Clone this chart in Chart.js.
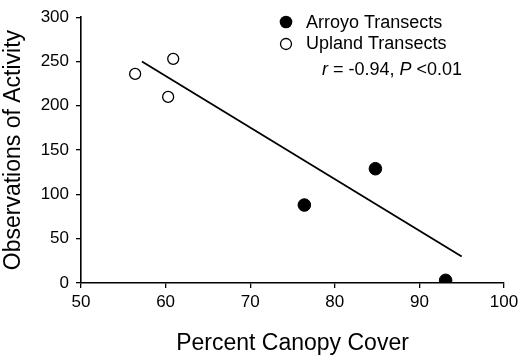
<!DOCTYPE html>
<html>
<head>
<meta charset="utf-8">
<script src="https://cdn.jsdelivr.net/npm/chart.js@4/dist/chart.umd.min.js"></script>
<style>
  html, body { margin: 0; padding: 0; background: #fff; }
  #wrap { width: 519px; height: 359px; position: relative; }
</style>
</head>
<body>
<div id="wrap"><canvas id="chart"></canvas></div>
<script>
// values
const arroyoX = [76.4, 84.8, 93.1];
const arroyoY = [88, 129, 3];
const uplandX = [56.4, 60.3, 60.9];
const uplandY = [236, 210, 253];
const fitX = [57.2, 95.0];
const fitY = [250, 30];
const xTicks = [50, 60, 70, 80, 90, 100];
const yTicks = [0, 50, 100, 150, 200, 250, 300];

const FONT = '"Liberation Sans", Arial, sans-serif';
const pts = (xs, ys) => xs.map((x, i) => ({ x, y: ys[i] }));

// legend + stats text drawn inside the plot area
const insideLegend = {
  id: 'insideLegend',
  afterDraw(chart) {
    const ctx = chart.ctx;
    const a = chart.chartArea;
    const lx = a.left + 205, tx = a.left + 225;
    ctx.save();
    ctx.textBaseline = 'middle';
    ctx.fillStyle = '#000';
    ctx.strokeStyle = '#000';
    ctx.font = '18px ' + FONT;

    ctx.beginPath();
    ctx.arc(lx, 22, 6.3, 0, Math.PI * 2);
    ctx.fill();
    ctx.fillText('Arroyo Transects', tx, 23);

    ctx.beginPath();
    ctx.arc(lx, 44, 5.5, 0, Math.PI * 2);
    ctx.fillStyle = '#fff';
    ctx.fill();
    ctx.lineWidth = 1.3;
    ctx.stroke();
    ctx.fillStyle = '#000';
    ctx.fillText('Upland Transects', tx, 44);

    const parts = [['r', true], [' = -0.94, ', false], ['P', true], [' <0.01', false]];
    let x = a.left + 241;
    parts.forEach(([t, it]) => {
      ctx.font = (it ? 'italic ' : '') + '18px ' + FONT;
      ctx.fillText(t, x, 70);
      x += ctx.measureText(t).width;
    });
    ctx.restore();
  }
};

new Chart(document.getElementById('chart'), {
  type: 'scatter',
  data: {
    datasets: [
      {
        label: 'Fit',
        type: 'line',
        data: pts(fitX, fitY),
        borderColor: '#000',
        borderWidth: 1.8,
        pointRadius: 0,
        fill: false,
        order: 2
      },
      {
        label: 'Arroyo Transects',
        data: pts(arroyoX, arroyoY),
        backgroundColor: '#000',
        borderColor: '#000',
        pointRadius: 6.3,
        pointBorderWidth: 1,
        order: 1
      },
      {
        label: 'Upland Transects',
        data: pts(uplandX, uplandY),
        backgroundColor: '#fff',
        borderColor: '#000',
        pointRadius: 5.5,
        pointBorderWidth: 1.3,
        order: 1
      }
    ]
  },
  options: {
    responsive: true,
    maintainAspectRatio: false,
    animation: false,
    layout: { padding: { top: 13, right: 15, left: 0, bottom: 0 } },
    plugins: { legend: { display: false }, tooltip: { enabled: false } },
    scales: {
      x: {
        type: 'linear',
        min: 50, max: 100,
        afterBuildTicks: s => { s.ticks = xTicks.map(v => ({ value: v })); },
        afterFit: s => { s.height = 76; s.paddingRight = 0; s.paddingLeft = 0; },
        border: { display: true, color: '#000', width: 1.6 },
        grid: { display: true, drawOnChartArea: false, drawTicks: true, tickLength: 5, color: '#000', lineWidth: 1.3 },
        ticks: { color: '#000', font: { family: FONT, size: 17 }, padding: 4 },
        title: { display: true, text: 'Percent Canopy Cover', color: '#000', font: { family: FONT, size: 23 }, padding: { top: 6, bottom: 2 } }
      },
      y: {
        type: 'linear',
        min: 0, max: 300,
        afterBuildTicks: s => { s.ticks = yTicks.map(v => ({ value: v })); },
        afterFit: s => { s.width = 81; },
        border: { display: true, color: '#000', width: 1.6 },
        grid: { display: true, drawOnChartArea: false, drawTicks: true, tickLength: 5, color: '#000', lineWidth: 1.3 },
        ticks: { color: '#000', font: { family: FONT, size: 17 }, padding: 7 },
        title: { display: true, text: 'Observations of Activity', color: '#000', font: { family: FONT, size: 23 }, padding: { top: 0, bottom: 2 } }
      }
    }
  },
  plugins: [insideLegend]
});
</script>
</body>
</html>
